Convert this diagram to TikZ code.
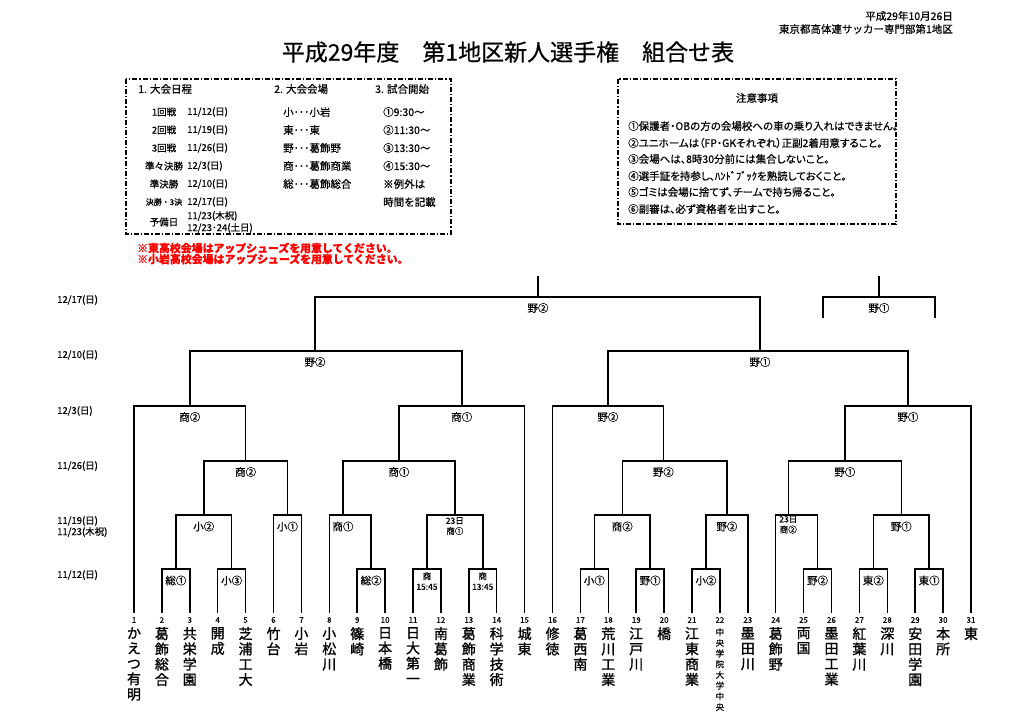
\documentclass[tikz,border=0pt]{standalone}
\usepackage{fontspec}
\setmainfont{Noto Sans CJK JP}[FakeBold=0.6]
\newfontfamily\pfont{Noto Sans CJK JP}[FakeBold=0.6,RawFeature=+palt]
\newfontfamily\nmfont{Noto Sans CJK JP}[FakeBold=1.2]
\begin{document}
\begin{tikzpicture}[x=1pt,y=-1pt,
  br/.style={line width=1.5pt},
  dashbox/.style={line width=1.1pt,dash pattern=on 5pt off 2pt on 1.2pt off 2pt},
  lbl/.style={font=\fontsize{10.5}{11}\selectfont,inner sep=0pt},
  slbl/.style={font=\fontsize{8.5}{10.5}\selectfont,align=center,inner sep=0pt,anchor=north},
  num/.style={font=\fontsize{8}{8}\selectfont,inner sep=0pt},
  tname/.style={font=\nmfont\fontsize{14}{15.3}\selectfont,align=center,inner sep=0pt,anchor=north},
  tsmall/.style={font=\fontsize{8.5}{10.7}\selectfont,align=center,inner sep=0pt,anchor=north},
  datel/.style={font=\fontsize{9.5}{11}\selectfont,inner sep=0pt,anchor=west},
  hdr/.style={font=\fontsize{10.5}{12}\selectfont,inner sep=0pt,anchor=east},
  boxt/.style={font=\fontsize{10.5}{12}\selectfont,inner sep=0pt,anchor=west},
  rowl/.style={font=\fontsize{9.5}{11}\selectfont,inner sep=0pt},
  rowd/.style={font=\fontsize{9.5}{11}\selectfont,inner sep=0pt,anchor=west},
  note/.style={font=\pfont\fontsize{10.5}{11}\selectfont,inner sep=0pt,anchor=west},
  redt/.style={font=\fontsize{10.9}{11}\selectfont\bfseries,text=red,inner sep=0pt,anchor=west}]
\useasboundingbox (0,0) rectangle (1024,725);

% header
\node[hdr] (hd1) at (953,16) {平成29年10月26日};
\node[hdr] (hd2) at (953,29) {東京都高体連サッカー専門部第1地区};
\node[font=\fontsize{23}{24}\selectfont,inner sep=0pt] (title) at (508,52) {平成29年度\hspace{1em}第1地区新人選手権\hspace{1em}組合せ表};

% schedule box
\draw[dashbox] (126,79) rectangle (451,234);
\node[boxt] (s1) at (138,89) {1. 大会日程};
\node[boxt] (s2) at (274,89) {2. 大会会場};
\node[boxt] (s3) at (375,89) {3. 試合開始};
\node[rowl] (r1) at (164,112) {1回戦};
\node[rowl] (r2) at (164,130) {2回戦};
\node[rowl] (r3) at (164,148) {3回戦};
\node[rowl] (r4) at (164,166) {準々決勝};
\node[rowl] (r5) at (164,184) {準決勝};
\node[rowl,font=\fontsize{8}{9}\selectfont] (r6) at (164,202) {決勝・3決};
\node[rowl] (r7) at (164,222) {予備日};
\node[rowd] (d1) at (187,112) {11/12(日)};
\node[rowd] (d2) at (187,130) {11/19(日)};
\node[rowd] (d3) at (187,148) {11/26(日)};
\node[rowd] (d4) at (187,166) {12/3(日)};
\node[rowd] (d5) at (187,184) {12/10(日)};
\node[rowd] (d6) at (187,202) {12/17(日)};
\node[rowd] (d7) at (187,216) {11/23(木祝)};
\node[rowd] (d8) at (187,228) {12/23･24(土日)};
\node[boxt] (v1) at (283,112) {小･･･小岩};
\node[boxt] (v2) at (283,130) {東･･･東};
\node[boxt] (v3) at (283,148) {野･･･葛飾野};
\node[boxt] (v4) at (283,166) {商･･･葛飾商業};
\node[boxt] (v5) at (283,184) {総･･･葛飾総合};
\node[boxt] (k1) at (383,112) {①9:30～};
\node[boxt] (k2) at (383,130) {②11:30～};
\node[boxt] (k3) at (383,148) {③13:30～};
\node[boxt] (k4) at (383,166) {④15:30～};
\node[boxt] (k5) at (383,184) {※例外は};
\node[boxt] (k6) at (383,202) {時間を記載};

\node[redt] (red1) at (137,248) {※東高校会場はアップシューズを用意してください。};
\node[redt] (red2) at (137,259) {※小岩高校会場はアップシューズを用意してください。};

% notes box
\draw[dashbox,line width=1.3pt] (618,79) rectangle (896,224);
\node[font=\fontsize{10.5}{12}\selectfont,inner sep=0pt] (nt) at (757,98) {注意事項};
\node[note] (n1) at (628,126) {①保護者・OBの方の会場校への車の乗り入れはできません。};
\node[note] (n2) at (628,143) {②ユニホームは（FP・GKそれぞれ）正副2着用意すること。};
\node[note] (n3) at (628,159) {③会場へは、8時30分前には集合しないこと。};
\node[note] (n4) at (628,176) {④選手証を持参し、ﾊﾝﾄﾞﾌﾞｯｸを熟読しておくこと。};
\node[note] (n5) at (628,192) {⑤ゴミは会場に捨てず、チームで持ち帰ること。};
\node[note] (n6) at (628,209) {⑥副審は、必ず資格者を出すこと。};

% date labels
\node[datel] (dl1) at (57,300) {12/17(日)};
\node[datel] (dl2) at (57,355) {12/10(日)};
\node[datel] (dl3) at (57,411) {12/3(日)};
\node[datel] (dl4) at (57,466) {11/26(日)};
\node[datel] (dl5) at (57,521) {11/19(日)};
\node[datel] (dl6) at (57,532) {11/23(木祝)};
\node[datel] (dl7) at (57,575) {11/12(日)};

% team coordinates and numbers
\foreach \i in {1,...,31} {
  \coordinate (t\i) at ({134+(\i-1)*27.9},613);
  \node[num] (no\i) at ({134+(\i-1)*27.9},620) {\i};
}

% match points
\coordinate (a23) at (175.85,569);
\coordinate (a45) at (231.65,569);
\coordinate (a910) at (371.15,569);
\coordinate (a1112) at (426.95,569);
\coordinate (a1314) at (482.75,569);
\coordinate (a1718) at (594.35,569);
\coordinate (a1920) at (650.15,569);
\coordinate (a2122) at (705.95,569);
\coordinate (a2526) at (817.55,569);
\coordinate (a2728) at (873.35,569);
\coordinate (a2930) at (929.15,569);
\coordinate (b1) at (203.75,515);
\coordinate (b2) at (287.45,515);
\coordinate (b3) at (343,515);
\coordinate (b4) at (454.85,515);
\coordinate (b5) at (622.25,515);
\coordinate (b6) at (726.9,515);
\coordinate (b7) at (788.3,515);
\coordinate (b8) at (901.25,515);
\coordinate (c1) at (245.6,461);
\coordinate (c2) at (398.9,461);
\coordinate (c3) at (663.3,461);
\coordinate (c4) at (844.8,461);
\coordinate (dd1) at (189.8,406);
\coordinate (dd2) at (461.75,406);
\coordinate (dd3) at (607.9,406);
\coordinate (dd4) at (907.9,406);
\coordinate (e1) at (315,351);
\coordinate (e2) at (760,351);
\coordinate (f) at (538,297);
\coordinate (ftop) at (538,276);
\coordinate (tpl) at (823,318);
\coordinate (tpr) at (935,318);
\coordinate (tp) at (879,297);
\coordinate (tptop) at (879,276);

% round 1
\draw[br] (t2) |- (a23) -| (t3);
\draw[br] (t4) |- (a45) -| (t5);
\draw[br] (t9) |- (a910) -| (t10);
\draw[br] (t11) |- (a1112) -| (t12);
\draw[br] (t13) |- (a1314) -| (t14);
\draw[br] (t17) |- (a1718) -| (t18);
\draw[br] (t19) |- (a1920) -| (t20);
\draw[br] (t21) |- (a2122) -| (t22);
\draw[br] (t25) |- (a2526) -| (t26);
\draw[br] (t27) |- (a2728) -| (t28);
\draw[br] (t29) |- (a2930) -| (t30);
% round 2
\draw[br] (a23) |- (b1) -| (a45);
\draw[br] (t6) |- (b2) -| (t7);
\draw[br] (t8) |- (b3) -| (a910);
\draw[br] (a1112) |- (b4) -| (a1314);
\draw[br] (a1718) |- (b5) -| (a1920);
\draw[br] (a2122) |- (b6) -| (t23);
\draw[br] (t24) |- (b7) -| (a2526);
\draw[br] (a2728) |- (b8) -| (a2930);
% round 3
\draw[br] (b1) |- (c1) -| (b2);
\draw[br] (b3) |- (c2) -| (b4);
\draw[br] (b5) |- (c3) -| (b6);
\draw[br] (b7) |- (c4) -| (b8);
% quarter finals
\draw[br] (t1) |- (dd1) -| (c1);
\draw[br] (c2) |- (dd2) -| (t15);
\draw[br] (t16) |- (dd3) -| (c3);
\draw[br] (c4) |- (dd4) -| (t31);
% semi finals
\draw[br] (dd1) |- (e1) -| (dd2);
\draw[br] (dd3) |- (e2) -| (dd4);
% final
\draw[br] (e1) |- (f) -| (e2);
\draw[br] (f) -- (ftop);
% third place
\draw[br] (tpl) |- (tp) -| (tpr);
\draw[br] (tp) -- (tptop);

% match labels
\node[lbl] (la23) at (175.85,580.5) {総①};
\node[lbl] (la45) at (231.65,580.5) {小③};
\node[lbl] (la910) at (371.15,580.5) {総②};
\node[slbl] (la1112) at (426.95,572) {商\\15:45};
\node[slbl] (la1314) at (482.75,572) {商\\13:45};
\node[lbl] (la1718) at (594.35,580.5) {小①};
\node[lbl] (la1920) at (650.15,580.5) {野①};
\node[lbl] (la2122) at (705.95,580.5) {小②};
\node[lbl] (la2526) at (817.55,580.5) {野②};
\node[lbl] (la2728) at (873.35,580.5) {東②};
\node[lbl] (la2930) at (929.15,580.5) {東①};
\node[lbl] (lb1) at (203.75,526.5) {小②};
\node[lbl] (lb2) at (287.45,526.5) {小①};
\node[lbl] (lb3) at (343,526.5) {商①};
\node[slbl] (lb4) at (454.85,517) {23日\\商①};
\node[lbl] (lb5) at (622.25,526.5) {商②};
\node[lbl] (lb6) at (726.9,526.5) {野②};
\node[slbl] (lb7) at (788.3,515.5) {23日\\商②};
\node[lbl] (lb8) at (901.25,526.5) {野①};
\node[lbl] (lc1) at (245.6,472) {商②};
\node[lbl] (lc2) at (398.9,472) {商①};
\node[lbl] (lc3) at (663.3,472) {野②};
\node[lbl] (lc4) at (844.8,472) {野①};
\node[lbl] (ld1) at (189.8,417) {商②};
\node[lbl] (ld2) at (461.75,417) {商①};
\node[lbl] (ld3) at (607.9,417) {野②};
\node[lbl] (ld4) at (907.9,417) {野①};
\node[lbl] (le1) at (315,362) {野②};
\node[lbl] (le2) at (760,362) {野①};
\node[lbl] (lf) at (538,308) {野②};
\node[lbl] (ltp) at (879,308) {野①};

% team names
\node[tname] (nm1) at (134.0,627) {か\\え\\つ\\有\\明};
\node[tname] (nm2) at (161.9,627) {葛\\飾\\総\\合};
\node[tname] (nm3) at (189.8,627) {共\\栄\\学\\園};
\node[tname] (nm4) at (217.7,627) {開\\成};
\node[tname] (nm5) at (245.6,627) {芝\\浦\\工\\大};
\node[tname] (nm6) at (273.5,627) {竹\\台};
\node[tname] (nm7) at (301.4,627) {小\\岩};
\node[tname] (nm8) at (329.3,627) {小\\松\\川};
\node[tname] (nm9) at (357.2,627) {篠\\崎};
\node[tname] (nm10) at (385.1,627) {日\\本\\橋};
\node[tname] (nm11) at (413.0,627) {日\\大\\第\\一};
\node[tname] (nm12) at (440.9,627) {南\\葛\\飾};
\node[tname] (nm13) at (468.8,627) {葛\\飾\\商\\業};
\node[tname] (nm14) at (496.7,627) {科\\学\\技\\術};
\node[tname] (nm15) at (524.6,627) {城\\東};
\node[tname] (nm16) at (552.5,627) {修\\徳};
\node[tname] (nm17) at (580.4,627) {葛\\西\\南};
\node[tname] (nm18) at (608.3,627) {荒\\川\\工\\業};
\node[tname] (nm19) at (636.2,627) {江\\戸\\川};
\node[tname] (nm20) at (664.1,627) {橋};
\node[tname] (nm21) at (692.0,627) {江\\東\\商\\業};
\node[tsmall] (nm22) at (719.9,628) {中\\央\\学\\院\\大\\学\\中\\央};
\node[tname] (nm23) at (747.8,627) {墨\\田\\川};
\node[tname] (nm24) at (775.7,627) {葛\\飾\\野};
\node[tname] (nm25) at (803.6,627) {両\\国};
\node[tname] (nm26) at (831.5,627) {墨\\田\\工\\業};
\node[tname] (nm27) at (859.4,627) {紅\\葉\\川};
\node[tname] (nm28) at (887.3,627) {深\\川};
\node[tname] (nm29) at (915.2,627) {安\\田\\学\\園};
\node[tname] (nm30) at (943.1,627) {本\\所};
\node[tname] (nm31) at (971.0,627) {東};
\end{tikzpicture}
\end{document}
